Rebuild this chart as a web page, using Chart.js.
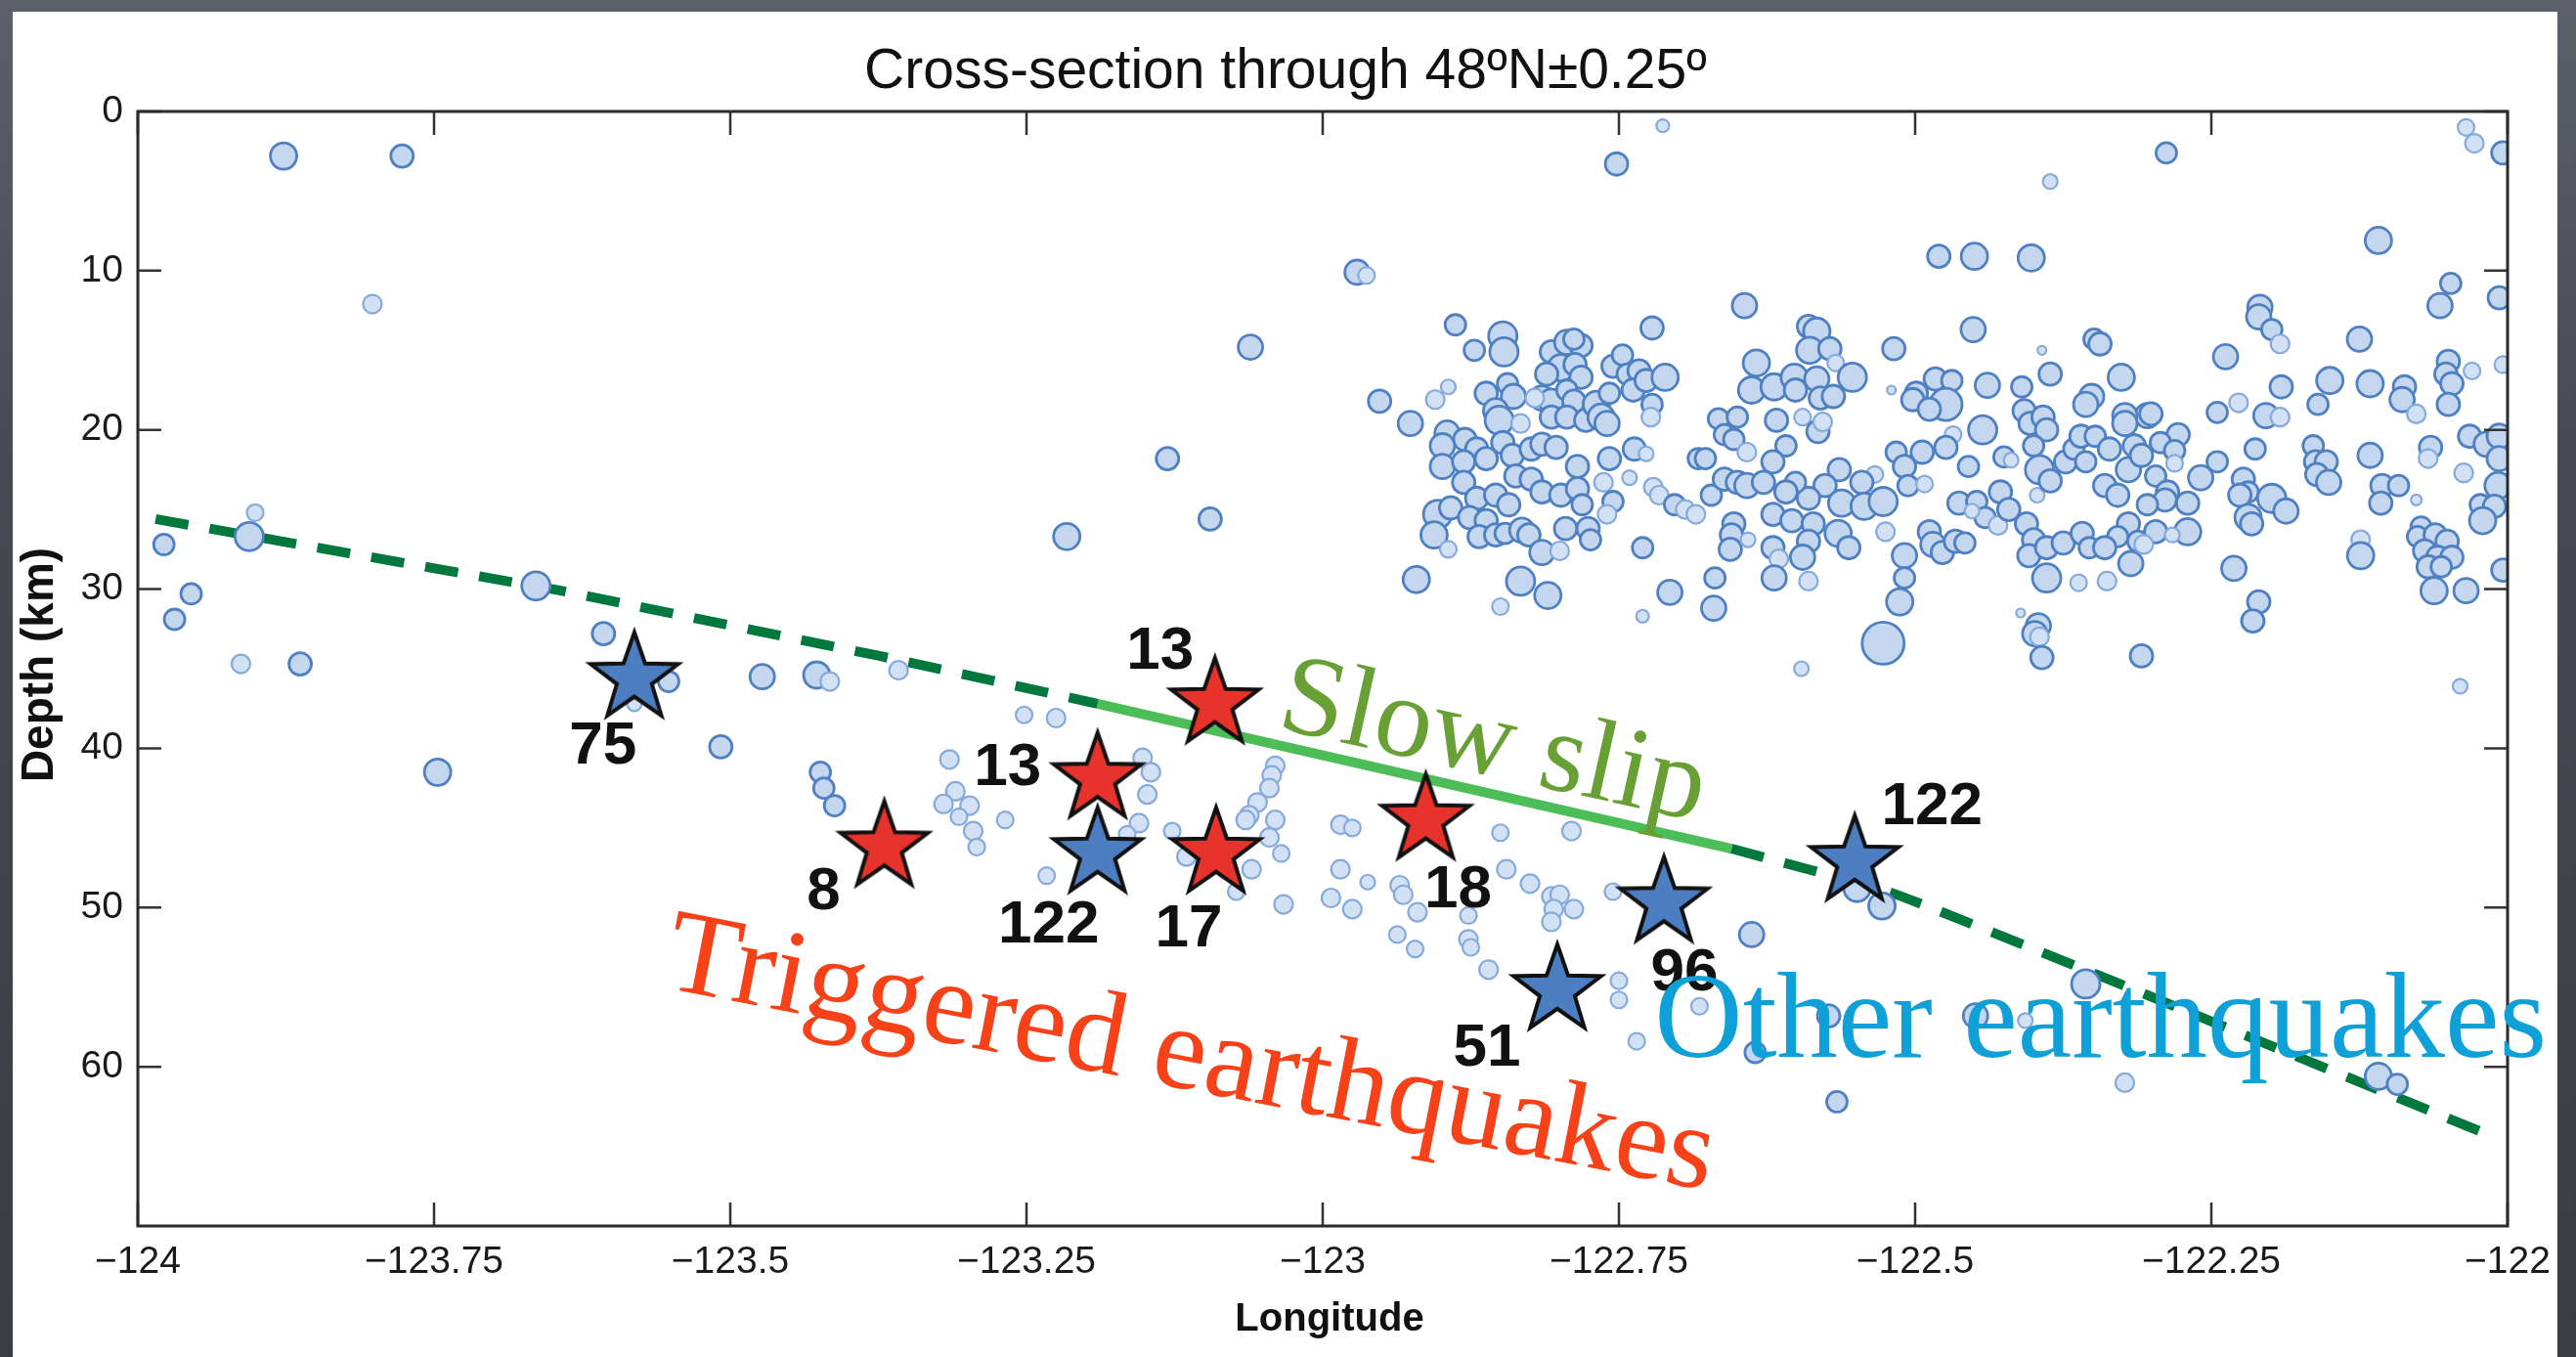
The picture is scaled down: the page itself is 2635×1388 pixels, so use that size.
<!DOCTYPE html>
<html>
<head>
<meta charset="utf-8">
<script src="https://cdn.jsdelivr.net/npm/chart.js@4.4.1/dist/chart.umd.min.js"></script>
<style>
    html, body { margin: 0; padding: 0; width: 2635px; height: 1388px; overflow: hidden; }
    body { background: linear-gradient(180deg, #5c606a 0%, #464951 35%, #3a3c43 100%); }
    #panel { position: absolute; left: 13px; top: 12px; width: 2603px; height: 1376px; background: #fff; }
    #chart { position: absolute; left: 0; top: 0; }
</style>
</head>
<body>
<div id="panel"></div>
<canvas id="chart" width="2635" height="1388"></canvas>
<script>
// ========== 数据 ==========
const chartTitle = 'Cross-section through 48ºN±0.25º';
const xTitle = 'Longitude';
const yTitle = 'Depth (km)';

const lonTicks = [-124, -123.75, -123.5, -123.25, -123, -122.75, -122.5, -122.25, -122];
const depthTicks = [0, 10, 20, 30, 40, 50, 60];

// slab surface (lon, depth); indices 3..4 are the slow-slip patch
const slabLon = [-123.985, -123.643, -123.374, -123.19, -122.655, -122.519, -122.347, -122.012];
const slabDepth = [25.6, 30.1, 34.2, 37.2, 46.3, 49.1, 54.2, 64.4];
const slipFrom = 3, slipTo = 4;

// stars: tremor-associated events
const starLon = [-123.581, -123.370, -123.190, -123.190, -123.091, -123.090, -122.913, -122.802, -122.712, -122.551];
const starDepth = [35.6, 46.2, 41.9, 46.6, 37.2, 46.6, 44.5, 55.2, 49.7, 47.1];
const starLabel = ['75', '8', '13', '122', '13', '17', '18', '51', '96', '122'];
const starKind = ['other', 'triggered', 'triggered', 'other', 'triggered', 'triggered', 'triggered', 'other', 'other', 'other'];

// background seismicity: [lon, depth, marker size]
const quakes = [
    [-123.877, 2.8, 12], [-123.777, 2.8, 10], [-123.802, 12.1, 8], [-123.901, 25.2, 7], [-123.906, 26.7, 13],
    [-123.978, 27.2, 9], [-123.955, 30.3, 9], [-123.969, 31.9, 9], [-123.913, 34.7, 8], [-123.863, 34.7, 10],
    [-123.664, 29.8, 13], [-123.607, 32.8, 10], [-123.552, 35.8, 9], [-123.581, 37.2, 6], [-123.473, 35.5, 11],
    [-123.427, 35.4, 12], [-123.416, 35.8, 8], [-123.508, 39.9, 10], [-123.747, 41.5, 12], [-123.424, 41.5, 9],
    [-123.421, 42.5, 9], [-123.412, 43.6, 9], [-123.358, 35.1, 8],
    [-122.713, 0.9, 5], [-122.752, 3.3, 10], [-122.971, 10.1, 11], [-122.963, 10.3, 7], [-123.061, 14.8, 11],
    [-123.131, 21.8, 10], [-123.095, 25.6, 10], [-123.216, 26.7, 12], [-122.952, 18.2, 10],
    [-122.888, 13.4, 9], [-122.848, 14.1, 13], [-122.847, 15.1, 13], [-122.872, 15.0, 9], [-122.722, 13.6, 10],
    [-122.644, 12.2, 11], [-122.634, 15.8, 12], [-122.638, 17.5, 12], [-122.905, 18.1, 8], [-122.894, 17.3, 6],
    [-122.926, 19.6, 11], [-122.862, 17.7, 10], [-122.844, 17.1, 9], [-122.839, 17.9, 11], [-122.854, 18.8, 11],
    [-122.851, 19.4, 13], [-122.833, 19.6, 8], [-122.895, 20.2, 11], [-122.899, 21.0, 11], [-122.880, 20.6, 10],
    [-122.870, 21.2, 10], [-122.848, 20.8, 10], [-122.899, 22.3, 11], [-122.881, 22.0, 10], [-122.862, 21.8, 10],
    [-122.840, 21.6, 10], [-122.824, 21.2, 10], [-122.815, 20.9, 10], [-122.803, 21.1, 10], [-122.837, 22.9, 10],
    [-122.824, 23.1, 10], [-122.815, 23.9, 10], [-122.881, 23.3, 10], [-122.870, 24.3, 10], [-122.854, 24.1, 10],
    [-122.843, 24.7, 10], [-122.903, 25.3, 13], [-122.906, 26.6, 12], [-122.892, 24.9, 10], [-122.894, 27.5, 7],
    [-122.876, 25.5, 10], [-122.862, 25.7, 10], [-122.868, 26.7, 10], [-122.854, 26.6, 10], [-122.846, 26.5, 9],
    [-122.832, 26.3, 11], [-122.826, 26.6, 10], [-122.815, 27.7, 11], [-122.800, 27.6, 8], [-122.795, 26.2, 10],
    [-122.776, 26.2, 10], [-122.774, 26.9, 9], [-122.799, 24.1, 10], [-122.785, 22.3, 10], [-122.785, 23.7, 10],
    [-122.781, 24.7, 9], [-122.763, 23.3, 8], [-122.758, 21.8, 10], [-122.755, 24.5, 9], [-122.760, 25.3, 8],
    [-122.741, 23.0, 6], [-122.737, 21.2, 10], [-122.727, 21.5, 6], [-122.721, 23.6, 8], [-122.716, 24.1, 8],
    [-122.703, 24.7, 9], [-122.694, 25.0, 8], [-122.685, 25.3, 8], [-122.730, 27.4, 9], [-122.683, 21.8, 9],
    [-122.677, 21.8, 9], [-122.672, 24.1, 9], [-122.661, 23.1, 10], [-122.650, 23.3, 10], [-122.642, 23.5, 11],
    [-122.666, 19.3, 9], [-122.650, 19.2, 9], [-122.661, 20.3, 9], [-122.653, 20.6, 9], [-122.642, 21.4, 8],
    [-122.653, 25.9, 10], [-122.655, 26.6, 10], [-122.656, 27.5, 10], [-122.641, 26.9, 6], [-122.921, 29.4, 12],
    [-122.833, 29.5, 13], [-122.810, 30.4, 12], [-122.850, 31.1, 7], [-122.707, 30.2, 11], [-122.730, 31.7, 5],
    [-122.669, 29.3, 9], [-122.670, 31.2, 11], [-122.807, 15.1, 10], [-122.794, 14.5, 11], [-122.782, 14.7, 10],
    [-122.799, 16.1, 12], [-122.811, 16.5, 10], [-122.787, 15.9, 10], [-122.782, 16.7, 10], [-122.815, 18.0, 11],
    [-122.807, 18.2, 11], [-122.794, 17.5, 9], [-122.788, 18.2, 10], [-122.807, 19.2, 10], [-122.794, 19.2, 10],
    [-122.778, 19.4, 10], [-122.769, 18.4, 12], [-122.765, 19.2, 12], [-122.760, 19.6, 11], [-122.755, 16.0, 10],
    [-122.747, 15.3, 9], [-122.743, 16.5, 9], [-122.733, 16.3, 10], [-122.738, 17.5, 10], [-122.727, 16.9, 10],
    [-122.722, 18.4, 9], [-122.723, 19.2, 8], [-122.711, 16.7, 12], [-122.758, 17.7, 9], [-122.821, 18.0, 8],
    [-122.788, 14.3, 9],
    [-122.480, 9.1, 10], [-122.450, 9.1, 12], [-122.402, 9.2, 12], [-122.451, 13.7, 11], [-122.518, 14.9, 10],
    [-122.590, 13.5, 10], [-122.583, 13.8, 12], [-122.589, 15.0, 12], [-122.572, 14.9, 10], [-122.567, 15.8, 7],
    [-122.553, 16.7, 13], [-122.619, 17.3, 12], [-122.602, 16.7, 12], [-122.601, 17.5, 10], [-122.583, 16.8, 11],
    [-122.580, 18.0, 10], [-122.569, 17.9, 10], [-122.617, 19.4, 10], [-122.595, 19.2, 7], [-122.582, 20.1, 10],
    [-122.578, 19.5, 8], [-122.520, 17.5, 3], [-122.499, 17.7, 10], [-122.502, 18.1, 10], [-122.483, 16.8, 10],
    [-122.469, 16.9, 9], [-122.474, 18.4, 15], [-122.488, 18.7, 10], [-122.439, 17.2, 11], [-122.410, 17.3, 9],
    [-122.393, 15.0, 3], [-122.386, 16.5, 10], [-122.349, 14.3, 9], [-122.344, 14.6, 10], [-122.326, 16.7, 12],
    [-122.351, 17.9, 11], [-122.356, 18.4, 11], [-122.304, 19.1, 11], [-122.323, 19.1, 11], [-122.443, 20.0, 13],
    [-122.468, 20.3, 7], [-122.474, 21.1, 10], [-122.408, 18.8, 10], [-122.403, 19.6, 10], [-122.392, 19.2, 10],
    [-122.389, 20.0, 10], [-122.400, 21.0, 9], [-122.425, 21.7, 9], [-122.419, 21.9, 6], [-122.455, 22.3, 9],
    [-122.516, 21.4, 9], [-122.494, 21.4, 10], [-122.509, 22.3, 10], [-122.506, 23.5, 9], [-122.492, 23.4, 7],
    [-122.534, 22.8, 7], [-122.545, 23.3, 10], [-122.564, 22.5, 10], [-122.576, 23.5, 10], [-122.590, 24.3, 10],
    [-122.601, 23.3, 9], [-122.609, 21.0, 9], [-122.620, 22.0, 10], [-122.628, 23.3, 10], [-122.609, 23.9, 10],
    [-122.620, 25.3, 10], [-122.604, 25.7, 10], [-122.586, 25.9, 10], [-122.562, 24.6, 12], [-122.543, 24.8, 12],
    [-122.527, 24.5, 13], [-122.565, 26.5, 12], [-122.556, 27.4, 10], [-122.590, 27.0, 10], [-122.620, 27.4, 10],
    [-122.615, 28.1, 8], [-122.595, 28.0, 11], [-122.525, 26.4, 8], [-122.509, 27.9, 11], [-122.509, 29.3, 9],
    [-122.513, 30.8, 12], [-122.527, 33.4, 20], [-122.596, 35.0, 6], [-122.619, 29.3, 11], [-122.590, 29.5, 8],
    [-122.488, 26.4, 10], [-122.485, 27.2, 11], [-122.477, 27.7, 10], [-122.466, 27.0, 10], [-122.458, 27.1, 9],
    [-122.463, 24.6, 10], [-122.448, 24.5, 9], [-122.441, 25.5, 9], [-122.430, 26.0, 8], [-122.428, 23.9, 10],
    [-122.421, 25.0, 10], [-122.452, 25.1, 6], [-122.406, 25.9, 10], [-122.400, 26.9, 10], [-122.404, 27.9, 10],
    [-122.389, 27.4, 10], [-122.375, 27.1, 10], [-122.389, 29.3, 13], [-122.362, 29.6, 7], [-122.338, 29.5, 8],
    [-122.397, 24.1, 6], [-122.395, 22.5, 13], [-122.386, 23.2, 10], [-122.373, 22.0, 10], [-122.366, 21.2, 9],
    [-122.360, 20.4, 10], [-122.348, 20.4, 9], [-122.336, 21.2, 10], [-122.356, 22.0, 9], [-122.340, 23.5, 10],
    [-122.329, 24.1, 10], [-122.320, 22.5, 11], [-122.323, 19.6, 11], [-122.315, 21.0, 10], [-122.309, 21.6, 10],
    [-122.320, 25.9, 10], [-122.329, 26.7, 9], [-122.318, 28.4, 11], [-122.312, 27.0, 9], [-122.359, 26.5, 10],
    [-122.353, 27.4, 9], [-122.340, 27.4, 10], [-122.411, 31.5, 3], [-122.396, 32.3, 11], [-122.399, 32.8, 11],
    [-122.395, 33.0, 8], [-122.393, 34.3, 10], [-122.309, 34.2, 10],
    [-122.109, 8.1, 12], [-122.048, 10.8, 9], [-122.057, 12.2, 11], [-122.007, 11.7, 10], [-122.209, 12.3, 11],
    [-122.210, 12.9, 11], [-122.199, 13.7, 9], [-122.192, 14.6, 8], [-122.238, 15.4, 11], [-122.125, 14.3, 11],
    [-122.301, 19.0, 10], [-122.245, 18.9, 9], [-122.227, 18.3, 8], [-122.191, 17.3, 10], [-122.204, 19.1, 11],
    [-122.192, 19.2, 8], [-122.150, 16.9, 12], [-122.160, 18.4, 9], [-122.116, 17.1, 12], [-122.087, 17.3, 10],
    [-122.089, 18.1, 11], [-122.077, 19.0, 8], [-122.050, 15.7, 10], [-122.052, 16.5, 10], [-122.047, 17.1, 10],
    [-122.050, 18.4, 10], [-122.030, 16.3, 7], [-122.004, 15.9, 7], [-122.278, 20.3, 10], [-122.293, 20.8, 9],
    [-122.281, 21.3, 9], [-122.281, 22.1, 7], [-122.297, 22.9, 9], [-122.245, 22.0, 9], [-122.259, 23.0, 11],
    [-122.213, 21.2, 9], [-122.287, 23.9, 10], [-122.289, 24.4, 10], [-122.304, 24.7, 9], [-122.270, 24.6, 10],
    [-122.270, 26.4, 12], [-122.297, 26.4, 10], [-122.283, 26.6, 6], [-122.307, 27.2, 8], [-122.223, 23.1, 10],
    [-122.219, 23.9, 9], [-122.226, 24.1, 10], [-122.199, 24.3, 13], [-122.187, 25.1, 11], [-122.219, 25.5, 12],
    [-122.216, 25.9, 10], [-122.231, 28.7, 11], [-122.210, 30.8, 10], [-122.215, 32.0, 10], [-122.164, 21.0, 9],
    [-122.162, 22.0, 10], [-122.153, 22.0, 10], [-122.161, 22.8, 10], [-122.151, 23.3, 11], [-122.116, 21.6, 11],
    [-122.106, 23.5, 10], [-122.092, 23.5, 9], [-122.107, 24.6, 10], [-122.077, 24.4, 4], [-122.065, 21.1, 10],
    [-122.067, 21.8, 8], [-122.124, 26.9, 8], [-122.124, 27.9, 12], [-122.073, 26.1, 9], [-122.076, 26.7, 9],
    [-122.061, 26.6, 10], [-122.051, 27.0, 10], [-122.070, 27.6, 10], [-122.059, 28.0, 10], [-122.047, 28.0, 10],
    [-122.067, 28.6, 10], [-122.056, 28.6, 9], [-122.062, 30.1, 12], [-122.035, 30.1, 11], [-122.040, 36.1, 6],
    [-122.037, 22.7, 8], [-122.032, 20.4, 10], [-122.018, 20.9, 11], [-122.007, 20.4, 11], [-122.007, 21.8, 11],
    [-122.008, 23.5, 12], [-122.023, 24.7, 9], [-122.011, 24.8, 10], [-122.021, 25.7, 12], [-122.004, 28.8, 10],
    [-122.035, 1.0, 7], [-122.028, 2.0, 8], [-122.004, 2.6, 10], [-122.288, 2.6, 9], [-122.386, 4.4, 6],
    [-122.528, 49.9, 12], [-122.549, 48.8, 12], [-122.638, 51.7, 11], [-122.356, 54.8, 13], [-122.449, 56.8, 11],
    [-122.407, 57.1, 6], [-122.573, 56.8, 10], [-122.635, 59.1, 9], [-122.323, 61.0, 8], [-122.566, 62.2, 9],
    [-122.109, 60.6, 12], [-122.093, 61.1, 9],
    [-123.252, 37.9, 7], [-123.225, 38.1, 8], [-123.315, 40.7, 8], [-123.310, 42.7, 8], [-123.320, 43.5, 8],
    [-123.298, 43.6, 8], [-123.295, 45.2, 8], [-123.292, 46.2, 7], [-123.268, 44.5, 7], [-123.307, 44.3, 7],
    [-123.152, 40.6, 8], [-123.145, 41.5, 8], [-123.148, 42.9, 8], [-123.155, 44.7, 8], [-123.165, 45.4, 7],
    [-123.233, 48.0, 7], [-123.127, 45.2, 7], [-123.115, 46.8, 8], [-123.060, 47.6, 8], [-123.073, 49.0, 7],
    [-123.040, 41.1, 8], [-123.043, 41.7, 8], [-123.045, 42.5, 8], [-123.055, 43.4, 8], [-123.062, 44.2, 8],
    [-123.065, 44.5, 8], [-123.040, 44.5, 8], [-123.045, 45.6, 8], [-123.035, 46.6, 7], [-123.033, 49.8, 8],
    [-122.985, 44.8, 8], [-122.975, 45.0, 7], [-122.985, 47.6, 8], [-122.962, 48.4, 6], [-122.993, 49.4, 8],
    [-122.975, 50.1, 8], [-122.935, 48.6, 8], [-122.932, 49.2, 8], [-122.920, 50.3, 8], [-122.937, 51.7, 7],
    [-122.922, 52.6, 7], [-122.877, 50.5, 7], [-122.877, 52.0, 8], [-122.875, 52.5, 7], [-122.860, 53.9, 8],
    [-122.850, 45.3, 7], [-122.790, 45.2, 8], [-122.845, 47.6, 8], [-122.825, 48.5, 8], [-122.807, 49.3, 8],
    [-122.800, 49.2, 8], [-122.805, 50.1, 8], [-122.788, 50.1, 8], [-122.807, 50.9, 8], [-122.755, 49.0, 7],
    [-122.750, 54.6, 7], [-122.750, 55.8, 7], [-122.735, 58.4, 7], [-122.682, 56.2, 7]
];

// annotation text (anchor in data units, rotation in degrees)
const notes = [
    { text: 'Slow slip', lon: -123.040, depth: 38.7, angle: 12.5, color: '#69a035', size: 118 },
    { text: 'Triggered earthquakes', lon: -123.558, depth: 55.0, angle: 11, color: '#f64119', size: 122 },
    { text: 'Other earthquakes', lon: -122.720, depth: 59.4, angle: 0, color: '#0fa0d8', size: 125 }
];

// label offsets from each star centre (px)
const labelOffsets = [[-32, 70], [-62, 47], [-92, -10], [-50, 74], [-56, -53], [-28, 78], [33, 72], [-72, 60], [21, 73], [79, -55]];

// ========== 样式 ==========
const SANS = '"Liberation Sans", Arial, Helvetica, sans-serif';
const SERIF = '"Liberation Serif", "Times New Roman", serif';

function makeStar(fill) {
    const R = 47, r = R * 0.4, pad = 12;
    const size = 2 * (R + pad);
    const c = document.createElement('canvas');
    c.width = size;
    c.height = size;
    const g = c.getContext('2d');
    g.translate(size / 2, size / 2);
    g.beginPath();
    for (let i = 0; i < 10; i++) {
        const rad = i % 2 ? r : R;
        const a = -Math.PI / 2 + i * Math.PI / 5;
        g.lineTo(rad * Math.cos(a), rad * Math.sin(a));
    }
    g.closePath();
    g.fillStyle = fill;
    g.fill();
    g.lineWidth = 4;
    g.strokeStyle = '#111';
    g.stroke();
    return c;
}

const redStar = makeStar('#e8332c');
const blueStar = makeStar('#4d7ec1');

function fmtLon(v) {
    return (v < 0 ? '\u2212' : '') + Math.abs(v);
}

function pts(lons, deps) {
    return lons.map((x, i) => ({ x: x, y: deps[i] }));
}

const isSmall = ctx => ctx.raw && ctx.raw.r < 9.6;

// ========== 插件：边框、内向刻度、星标注 ==========
const frameTicks = {
    id: 'frameTicks',
    afterDatasetsDraw(chart) {
        const ctx = chart.ctx;
        const { left, right, top, bottom } = chart.chartArea;
        const xs = chart.scales.x, ys = chart.scales.y;
        const len = 24;
        ctx.save();
        ctx.strokeStyle = '#333';
        ctx.lineWidth = 2.5;
        lonTicks.forEach(v => {
            const px = xs.getPixelForValue(v);
            ctx.beginPath();
            ctx.moveTo(px, bottom); ctx.lineTo(px, bottom - len);
            ctx.moveTo(px, top); ctx.lineTo(px, top + len);
            ctx.stroke();
        });
        depthTicks.forEach(v => {
            const py = ys.getPixelForValue(v);
            ctx.beginPath();
            ctx.moveTo(left, py); ctx.lineTo(left + len, py);
            ctx.moveTo(right, py); ctx.lineTo(right - len, py);
            ctx.stroke();
        });
        ctx.lineWidth = 3;
        ctx.strokeStyle = '#2a2a2a';
        ctx.strokeRect(left, top, right - left, bottom - top);

        const meta = chart.getDatasetMeta(0);
        ctx.fillStyle = '#111';
        ctx.font = 'bold 62px ' + SANS;
        ctx.textAlign = 'center';
        ctx.textBaseline = 'middle';
        meta.data.forEach((pt, i) => {
            const off = labelOffsets[i];
            ctx.fillText(starLabel[i], pt.x + off[0], pt.y + off[1]);
        });
        ctx.restore();
    }
};

// ========== 插件：标题与注释文字 ==========
const annotations = {
    id: 'annotations',
    afterDraw(chart) {
        const ctx = chart.ctx;
        const { left, right, top, bottom } = chart.chartArea;
        const xs = chart.scales.x, ys = chart.scales.y;
        ctx.save();
        ctx.fillStyle = '#111';
        ctx.textAlign = 'center';
        ctx.textBaseline = 'alphabetic';
        ctx.font = '57px ' + SANS;
        ctx.fillText(chartTitle, (left + right) / 2 - 38, top - 24);

        ctx.font = 'bold 40px ' + SANS;
        ctx.fillText(xTitle, (left + right) / 2 + 7, 1361);

        ctx.save();
        ctx.translate(54, (top + bottom) / 2 - 4);
        ctx.rotate(-Math.PI / 2);
        ctx.font = 'bold 46px ' + SANS;
        ctx.fillText(yTitle, 0, 0);
        ctx.restore();

        notes.forEach(n => {
            ctx.save();
            ctx.translate(xs.getPixelForValue(n.lon), ys.getPixelForValue(n.depth));
            ctx.rotate(n.angle * Math.PI / 180);
            ctx.font = n.size + 'px ' + SERIF;
            ctx.fillStyle = n.color;
            ctx.textAlign = 'left';
            ctx.fillText(n.text, 0, 0);
            ctx.restore();
        });
        ctx.restore();
    }
};

// ========== 图表 ==========
const tickFont = { family: SANS, size: 39 };

new Chart(document.getElementById('chart'), {
    type: 'scatter',
    data: {
        datasets: [
            {
                label: 'Tremor-time events',
                data: pts(starLon, starDepth),
                pointStyle: starKind.map(k => k === 'triggered' ? redStar : blueStar),
                pointRadius: 47,
                order: 0,
                clip: false
            },
            {
                type: 'bubble',
                label: 'Seismicity',
                data: quakes.map(q => ({ x: q[0], y: q[1], r: q[2] + 1.5 })),
                backgroundColor: ctx => isSmall(ctx) ? '#d2e1f4' : '#c4d7ef',
                borderColor: ctx => isSmall(ctx) ? '#86aadb' : '#4f80c2',
                borderWidth: ctx => isSmall(ctx) ? 2.2 : 2.8,
                order: 1,
                clip: 0
            },
            {
                type: 'line',
                label: 'Slab (upper)',
                data: pts(slabLon.slice(0, slipFrom + 1), slabDepth.slice(0, slipFrom + 1)),
                borderColor: '#00773c',
                borderWidth: 10,
                borderDash: [34, 22],
                borderCapStyle: 'butt',
                pointRadius: 0,
                tension: 0,
                order: 2,
                clip: 0
            },
            {
                type: 'line',
                label: 'Slow slip',
                data: pts(slabLon.slice(slipFrom, slipTo + 1), slabDepth.slice(slipFrom, slipTo + 1)),
                borderColor: '#4dbd58',
                borderWidth: 10,
                pointRadius: 0,
                order: 2,
                clip: 0
            },
            {
                type: 'line',
                label: 'Slab (lower)',
                data: pts(slabLon.slice(slipTo), slabDepth.slice(slipTo)),
                borderColor: '#00773c',
                borderWidth: 10,
                borderDash: [34, 22],
                borderCapStyle: 'butt',
                pointRadius: 0,
                tension: 0.15,
                order: 2,
                clip: 0
            }
        ]
    },
    options: {
        responsive: false,
        animation: false,
        devicePixelRatio: 1,
        layout: { padding: { left: 0, top: 114, right: 70, bottom: 0 } },
        plugins: {
            legend: { display: false },
            tooltip: { enabled: false },
            title: { display: false }
        },
        scales: {
            x: {
                type: 'linear',
                min: -124,
                max: -122,
                afterBuildTicks: s => { s.ticks = lonTicks.map(v => ({ value: v })); },
                afterFit: s => { s.height = 134; },
                grid: { display: false, drawTicks: false },
                border: { display: false },
                ticks: {
                    callback: v => fmtLon(v),
                    font: tickFont,
                    color: '#1a1a1a',
                    padding: 14,
                    maxRotation: 0,
                    autoSkip: false
                }
            },
            y: {
                type: 'linear',
                reverse: true,
                min: 0,
                max: 70,
                afterBuildTicks: s => { s.ticks = depthTicks.map(v => ({ value: v })); },
                afterFit: s => { s.width = 141; },
                grid: { display: false, drawTicks: false },
                border: { display: false },
                ticks: {
                    font: tickFont,
                    color: '#1a1a1a',
                    padding: 15
                }
            }
        }
    },
    plugins: [frameTicks, annotations]
});
</script>
</body>
</html>
